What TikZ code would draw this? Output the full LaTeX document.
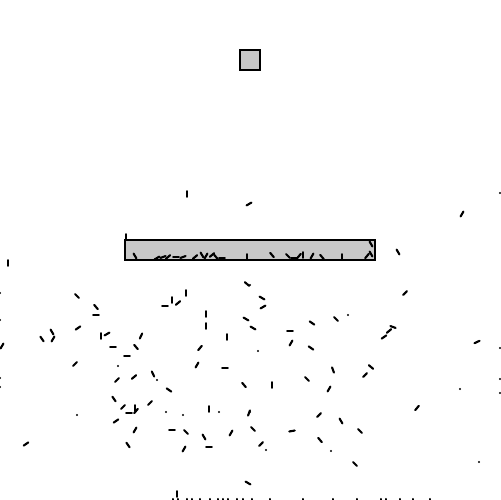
\documentclass[tikz,border=0pt]{standalone}
\definecolor{boxgray}{RGB}{200,200,200}
\tikzset{grain/.style={line width=1.2pt,line cap=round}}
\begin{document}
\begin{tikzpicture}[x=0.02cm,y=-0.02cm]
\useasboundingbox (0,0) rectangle (500,500);
% falling box
\draw[line width=1.2pt,fill=boxgray] (240,50) rectangle (260,70);
% platform
\draw[line width=0.9pt,fill=boxgray] (125,240) rectangle (375,260);
% grains on the platform
\foreach \x/\y/\a in {135/256/60,157/258/-30,163/257/-20,168/257/-40,176/257/0,183/257/-20,195/257/-40,202/255/60,206/256/-60,212/255/-40,216/257/50,222/258/0,247/257/90,272/255/50,288/256/45,294/258/0,299/256/-50,303/255/90,312/256/-60,322/257/50,342/257/90,367/256/-50,371/254/60,371/244/60,126/237/90}
  \draw[grain] ([shift={(\x,\y)}]\a:2.8) -- ([shift={(\x,\y)}]\a+180:2.8);
% grains in the air
\foreach \x/\y/\a in {187/194/90,249/204/-30,462/214/-60,398/252/60,405/293/-45,8/263/90,248/483/30,
  247/284/40,77/296/45,96/307/50,96/315/0,78/328/-35,52/332/60,42/339/55,53/339/-60,101/336/90,107/334/-30,
  141/336/-65,113/347/0,136/347/50,127/356/0,2/346/-60,75/364/-45,117/380/-45,134/377/-40,153/374/65,
  169/390/35,114/399/55,123/407/-45,135/408/90,136/411/-50,129/413/0,150/403/-45,116/421/-35,135/430/-60,
  172/430/0,186/432/45,204/437/60,209/447/0,231/433/-60,184/449/-60,128/445/55,26/444/-35,209/409/90,
  249/413/-70,165/306/0,172/300/90,178/303/-40,186/293/90,206/314/90,206/326/90,227/337/90,200/348/-50,
  197/365/-60,225/368/0,246/319/30,244/385/50,
  262/298/30,263/307/-30,253/328/30,290/331/0,291/343/-60,312/323/35,311/348/35,336/319/45,393/327/20,
  389/331/-40,384/337/-35,477/342/-25,333/370/70,307/379/45,371/367/40,365/375/-45,272/385/90,329/389/-60,
  319/415/-45,341/421/60,417/408/-50,253/429/45,292/431/-10,360/431/45,261/444/-45,320/440/50,355/464/45,
  177/494/90}
  \draw[grain] ([shift={(\x,\y)}]\a:2.8) -- ([shift={(\x,\y)}]\a+180:2.8);
% small specks
\foreach \x/\y in {118/366,157/380,77/415,166/412,183/415,219/412,258/351,348/315,460/389,266/450,331/451,
  479/462,0/293,0/320,0/378,0/387,500/348,500/379,500/393,500/193,250/285,250/412}
  \fill (\x,\y) circle (1.2);
% grains cut by the lower edge
\foreach \x in {173,178,187,192,200,210,218,223,228,237,243,252,270,303,333,357,381,386,400,413,430}
  \draw[grain] (\x,499) -- (\x,503);
\end{tikzpicture}
\end{document}
